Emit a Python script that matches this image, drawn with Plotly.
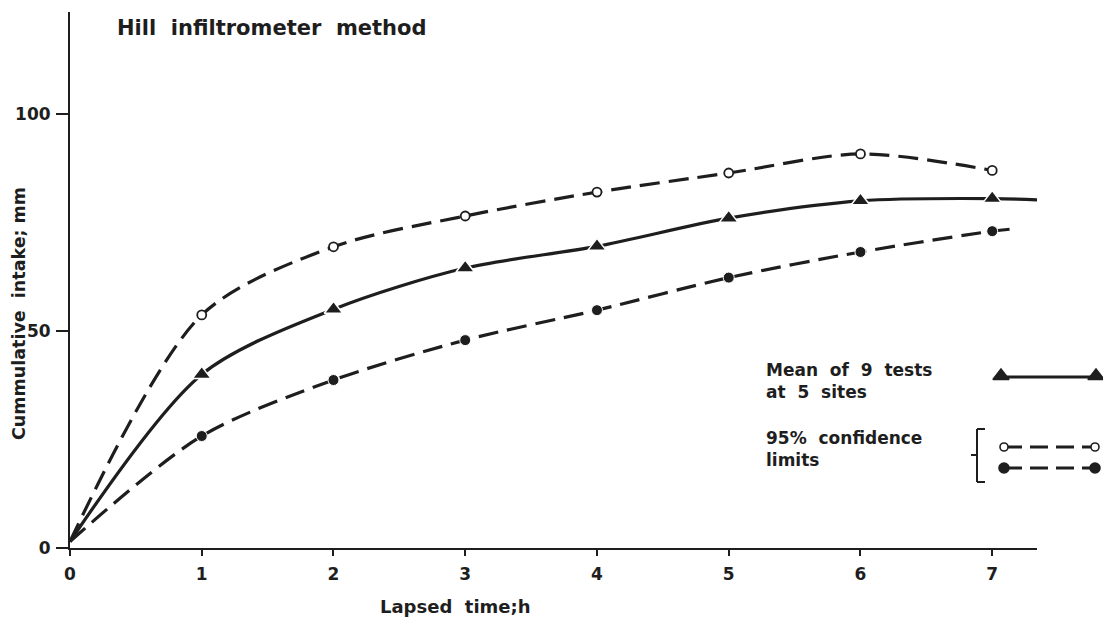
import plotly.graph_objects as go

# ---- data ----
hours = [0, 1, 2, 3, 4, 5, 6, 7]
mean_intake = [1.5, 40.0, 55.0, 64.5, 69.5, 76.0, 80.0, 80.5]
upper_limit = [1.5, 53.7, 69.4, 76.5, 82.0, 86.4, 90.8, 87.0]
lower_limit = [1.5, 25.8, 38.7, 47.9, 54.8, 62.3, 68.2, 73.0]
mean_tail_x, mean_tail_y = 7.35, 80.2
lower_tail_x, lower_tail_y = 7.15, 73.5
x_ticks = [0, 1, 2, 3, 4, 5, 6, 7]
y_ticks = [0, 50, 100]

FONT = "DejaVu Sans"
INK = "#1e1e1e"
DASH = "20px,9px"

W, H = 1103, 618
ML, MR, MT, MB = 70, 3, 12, 70
X_END_PX = 1037
x_dom_end = (X_END_PX - ML) / (W - ML - MR)


def paper_x(px):
    return (px - ML) / (W - ML - MR)


def paper_y(py):
    return (H - MB - py) / (H - MT - MB)


fig = go.Figure()

# curves
fig.add_trace(go.Scatter(x=hours + [mean_tail_x], y=mean_intake + [mean_tail_y],
                         mode="lines", line=dict(color=INK, width=3.2, shape="spline", smoothing=0.85),
                         hoverinfo="skip", showlegend=False))
fig.add_trace(go.Scatter(x=hours, y=upper_limit,
                         mode="lines", line=dict(color=INK, width=3.2, dash=DASH, shape="spline", smoothing=0.85),
                         hoverinfo="skip", showlegend=False))
fig.add_trace(go.Scatter(x=hours + [lower_tail_x], y=lower_limit + [lower_tail_y],
                         mode="lines", line=dict(color=INK, width=3.2, dash=DASH, shape="spline", smoothing=0.85),
                         hoverinfo="skip", showlegend=False))
# markers
fig.add_trace(go.Scatter(x=hours[1:], y=mean_intake[1:], mode="markers", cliponaxis=False,
                         marker=dict(symbol="triangle-up", size=16, color=INK, line=dict(color="white", width=1.5)),
                         showlegend=False))
fig.add_trace(go.Scatter(x=hours[1:], y=upper_limit[1:], mode="markers", cliponaxis=False,
                         marker=dict(symbol="circle", size=9, color="white", line=dict(color=INK, width=1.8)),
                         showlegend=False))
fig.add_trace(go.Scatter(x=hours[1:], y=lower_limit[1:], mode="markers", cliponaxis=False,
                         marker=dict(symbol="circle", size=11, color=INK, line=dict(color="white", width=1)),
                         showlegend=False))


# ---- legend key drawn on a pixel-scaled helper axis pair ----
def px_line(x0, x1, y, dash=None):
    fig.add_trace(go.Scatter(x=[x0, x1], y=[y, y], mode="lines", xaxis="x2", yaxis="y2",
                             cliponaxis=False, line=dict(color=INK, width=3, dash=dash or "solid"),
                             hoverinfo="skip", showlegend=False))


def px_markers(xs, y, symbol, size, fill):
    fig.add_trace(go.Scatter(x=xs, y=[y] * len(xs), mode="markers", xaxis="x2", yaxis="y2",
                             cliponaxis=False,
                             marker=dict(symbol=symbol, size=size, color=fill, line=dict(color=INK, width=1.6)),
                             hoverinfo="skip", showlegend=False))


px_line(1001, 1096, 377)
px_markers([1001, 1096], 376, "triangle-up", 14, INK)
px_line(1004, 1095, 447, "18px,8px")
px_markers([1004, 1095], 447, "circle", 8, "white")
px_line(1004, 1095, 468, "18px,8px")
px_markers([1004, 1095], 468, "circle", 10, INK)

shapes = []
for (x0, y0, x1, y1) in [(977, 429, 977, 482), (977, 429, 985, 429), (977, 482, 985, 482), (971, 455, 977, 455)]:
    shapes.append(dict(type="line", xref="paper", yref="paper",
                       x0=paper_x(x0), y0=paper_y(y0), x1=paper_x(x1), y1=paper_y(y1),
                       line=dict(color=INK, width=2)))

annotations = [
    dict(text="<b>Hill  infiltrometer  method</b>", x=115, y=28, xanchor="left", yanchor="middle",
         font=dict(size=21)),
    dict(text="<b>Mean  of  9  tests<br>at  5  sites</b>", x=764, y=381, xanchor="left", yanchor="middle",
         align="left", font=dict(size=17)),
    dict(text="<b>95%  confidence<br>limits</b>", x=764, y=449, xanchor="left", yanchor="middle",
         align="left", font=dict(size=17)),
    dict(text="<b>Lapsed  time;h</b>", x=455, y=606, xanchor="center", yanchor="middle",
         font=dict(size=18)),
    dict(text="<b>Cummulative  intake; mm</b>", x=19, y=314, xanchor="center", yanchor="middle",
         textangle=-90, font=dict(size=17.5)),
]
for a in annotations:
    a.update(xref="paper", yref="paper", x=paper_x(a["x"]), y=paper_y(a["y"]), showarrow=False)
    a["font"].update(family=FONT, color=INK)

fig.update_layout(
    width=W, height=H,
    margin=dict(l=ML, r=MR, t=MT, b=MB),
    paper_bgcolor="white", plot_bgcolor="rgba(0,0,0,0)",
    showlegend=False,
    shapes=shapes, annotations=annotations,
    xaxis=dict(domain=[0, x_dom_end], range=[0, 7.34], tickvals=x_ticks,
               ticktext=[f"<b>{t}</b>" for t in x_ticks],
               showgrid=False, zeroline=False, showline=True, linecolor=INK, linewidth=2,
               ticks="outside", ticklen=6, tickwidth=1.5, tickcolor=INK,
               tickfont=dict(family=FONT, size=17, color=INK), ticklabelstandoff=4),
    yaxis=dict(domain=[0, 1], range=[0, 123.5], tickvals=y_ticks,
               ticktext=[f"<b>{t}</b>" for t in y_ticks],
               showgrid=False, zeroline=False, showline=True,
               linecolor=INK, linewidth=2, ticks="outside", ticklen=12, tickwidth=1.5, tickcolor=INK,
               tickfont=dict(family=FONT, size=17, color=INK), ticklabelstandoff=2),
    xaxis2=dict(domain=[0, 1], range=[ML, W - MR], anchor="y2", visible=False, fixedrange=True),
    yaxis2=dict(domain=[0, 1], range=[H - MB, MT], anchor="x2", visible=False, fixedrange=True),
)

fig.write_html("out.html")
